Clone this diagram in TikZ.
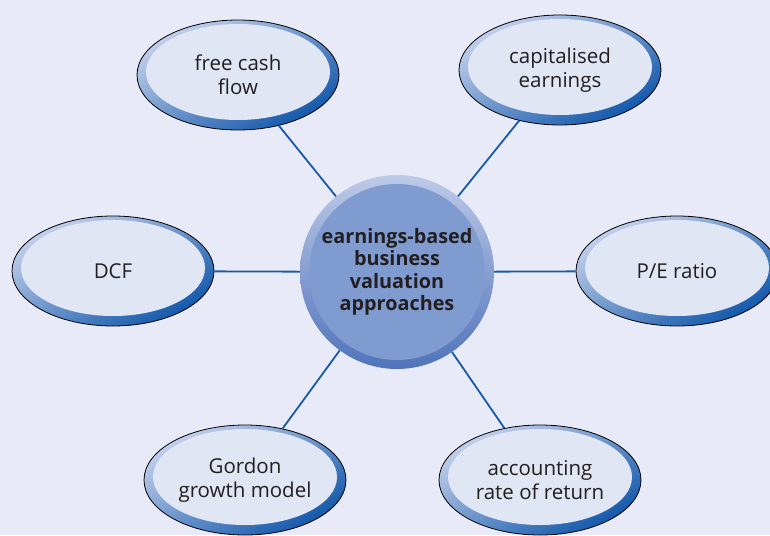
\documentclass[tikz,border=0pt]{standalone}
\usepackage{fontspec}
\setmainfont{Open Sans}
\usetikzlibrary{shapes.geometric}

\definecolor{bgblue}{RGB}{232,235,247}
\definecolor{ringlight}{RGB}{196,208,236}
\definecolor{ringdark}{RGB}{18,88,170}
\definecolor{innerfill}{RGB}{224,230,244}
\definecolor{hubfill}{RGB}{127,155,208}
\definecolor{hublight}{RGB}{190,202,232}
\definecolor{hubdark}{RGB}{80,115,186}
\definecolor{linkblue}{RGB}{24,90,170}
\definecolor{inkgrey}{RGB}{35,31,32}

\begin{document}
\begin{tikzpicture}[x=1pt, y=-1pt,
  font=\fontsize{20.5}{24}\selectfont, text=inkgrey,
  approach/.style={ellipse, draw=black, line width=0.8pt, inner sep=0pt,
    minimum width=202pt, minimum height=110pt, align=center,
    top color=ringlight, bottom color=ringdark, shading angle=30,
    path picture={\fill[innerfill] ([yshift=3pt]path picture bounding box.center)
      ellipse [x radius=92pt, y radius=48pt];}},
  hub/.style={circle, inner sep=0pt, minimum size=194pt, align=center,
    top color=hublight, bottom color=hubdark,
    font=\bfseries\fontsize{19.8}{22.5}\selectfont,
    path picture={\fill[hubfill] (path picture bounding box.center) circle [radius=88pt];}},
  link/.style={draw=linkblue, line width=1.8pt}
]
  \fill[bgblue] (0,0) rectangle (770,535);
  \clip (0,0) rectangle (770,535);

  \node[hub] (hub) at (397,272) {earnings-based\\business\\valuation\\approaches};

  \node[approach] (fcf) at (238,75) {free cash\\flow};
  \node[approach] (cap) at (560,70) {capitalised\\earnings};
  \node[approach] (dcf) at (113,271) {DCF};
  \node[approach] (pe) at (677,271) {P/E ratio};
  \node[approach] (gordon) at (245,480) {Gordon\\growth model};
  \node[approach] (arr) at (540,480) {accounting\\rate of return};

  \draw[link] (fcf) -- (hub);
  \draw[link] (cap) -- (hub);
  \draw[link] (dcf) -- (hub);
  \draw[link] (pe) -- (hub);
  \draw[link] (gordon) -- (hub);
  \draw[link] (arr) -- (hub);
\end{tikzpicture}
\end{document}
